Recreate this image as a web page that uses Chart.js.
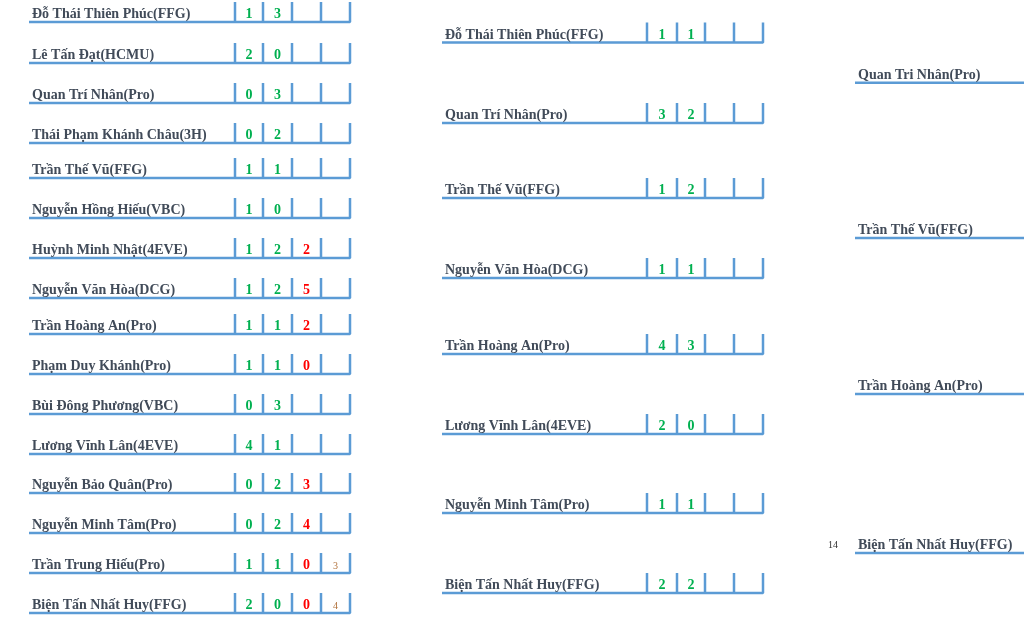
<!DOCTYPE html>
<html>
<head>
<meta charset="utf-8">
<script src="https://cdn.jsdelivr.net/npm/chart.js@4"></script>
<style>
  html, body { margin: 0; padding: 0; background: #fff; }
  #wrap { width: 1024px; height: 624px; position: relative; }
</style>
</head>
<body>
<div id="wrap"><canvas id="bracket"></canvas></div>
<script>
// round 1 (16 players)
const round1Names = [
  'Đỗ Thái Thiên Phúc(FFG)', 'Lê Tấn Đạt(HCMU)', 'Quan Trí Nhân(Pro)', 'Thái Phạm Khánh Châu(3H)',
  'Trần Thế Vũ(FFG)', 'Nguyễn Hồng Hiếu(VBC)', 'Huỳnh Minh Nhật(4EVE)', 'Nguyễn Văn Hòa(DCG)',
  'Trần Hoàng An(Pro)', 'Phạm Duy Khánh(Pro)', 'Bùi Đông Phương(VBC)', 'Lương Vĩnh Lân(4EVE)',
  'Nguyễn Bảo Quân(Pro)', 'Nguyễn Minh Tâm(Pro)', 'Trần Trung Hiếu(Pro)', 'Biện Tấn Nhất Huy(FFG)'
];
const round1Game1 = [1, 2, 0, 0, 1, 1, 1, 1, 1, 1, 0, 4, 0, 0, 1, 2];
const round1Game2 = [3, 0, 3, 2, 1, 0, 2, 2, 1, 1, 3, 1, 2, 2, 1, 0];
const round1Tiebreak = [null, null, null, null, null, null, 2, 5, 2, 0, null, null, 3, 4, 0, 0];
const round1Extra = [null, null, null, null, null, null, null, null, null, null, null, null, null, null, 3, 4];

// round 2 (8 players)
const round2Names = [
  'Đỗ Thái Thiên Phúc(FFG)', 'Quan Trí Nhân(Pro)', 'Trần Thế Vũ(FFG)', 'Nguyễn Văn Hòa(DCG)',
  'Trần Hoàng An(Pro)', 'Lương Vĩnh Lân(4EVE)', 'Nguyễn Minh Tâm(Pro)', 'Biện Tấn Nhất Huy(FFG)'
];
const round2Game1 = [1, 3, 1, 1, 4, 2, 1, 2];
const round2Game2 = [1, 2, 2, 1, 3, 0, 1, 2];

// round 3 (4 players)
const round3Names = ['Quan Tri Nhân(Pro)', 'Trần Thế Vũ(FFG)', 'Trần Hoàng An(Pro)', 'Biện Tấn Nhất Huy(FFG)'];
const round3Notes = [null, null, null, '14'];

// layout (pixel space of the scales)
const round1Rows = [22, 63, 103, 143, 178, 218, 258, 298, 334, 374, 414, 454, 493, 533, 573, 613];
const pairMid = rows => rows.filter((_, i) => i % 2 === 0).map((y, i) => (y + rows[i * 2 + 1]) / 2);
const round2Rows = pairMid(round1Rows);
const round3Rows = pairMid(round2Rows);

const col1 = { x0: 29, name: 32, cells: [235, 263, 292, 321, 350] };
const col2 = { x0: 442, name: 445, cells: [647, 677, 705, 734, 763] };
const col3 = { x0: 855, name: 858, x1: 1024 };
const tickH = 20;

const lineBlue = '#5b9bd5';
const nameColor = '#414b59';
const greenColor = '#00b050';
const redColor = '#ff0000';
const brownColor = '#b0703a';
const nameFont = 'bold 14px "Liberation Serif", "Times New Roman", serif';
const smallFont = '10px "Liberation Serif", "Times New Roman", serif';

// one polyline per row: underline plus the cell ticks
const rowShape = (col, y) => {
  const pts = [{ x: col.x0, y: y }];
  col.cells.forEach(cx => {
    pts.push({ x: cx, y: y }, { x: cx, y: y - tickH }, { x: cx, y: y });
  });
  pts.pop();
  return pts;
};

const lineSet = data => ({
  data: data,
  showLine: true,
  borderColor: lineBlue,
  borderWidth: 2.5,
  pointRadius: 0,
  tension: 0,
  borderJoinStyle: 'bevel',
  borderCapStyle: 'butt'
});

const datasets = [];
round1Rows.forEach(y => datasets.push(lineSet(rowShape(col1, y))));
round2Rows.forEach(y => datasets.push(lineSet(rowShape(col2, y))));
round3Rows.forEach(y => datasets.push(lineSet([{ x: col3.x0, y: y }, { x: col3.x1, y: y }])));

const cellCenter = (col, i) => (col.cells[i] + col.cells[i + 1]) / 2;

const textPlugin = {
  id: 'bracketText',
  afterDatasetsDraw(chart) {
    const { ctx, scales: { x, y } } = chart;
    ctx.save();
    ctx.textBaseline = 'alphabetic';

    const drawScore = (val, col, i, rowY, color, font) => {
      if (val === null || val === undefined) return;
      ctx.font = font;
      ctx.fillStyle = color;
      ctx.textAlign = 'center';
      ctx.fillText(String(val), x.getPixelForValue(cellCenter(col, i)), y.getPixelForValue(rowY - 4));
    };

    round1Names.forEach((name, i) => {
      const ry = round1Rows[i];
      ctx.font = nameFont;
      ctx.fillStyle = nameColor;
      ctx.textAlign = 'left';
      ctx.fillText(name, x.getPixelForValue(col1.name), y.getPixelForValue(ry - 4));
      drawScore(round1Game1[i], col1, 0, ry, greenColor, nameFont);
      drawScore(round1Game2[i], col1, 1, ry, greenColor, nameFont);
      drawScore(round1Tiebreak[i], col1, 2, ry, redColor, nameFont);
      drawScore(round1Extra[i], col1, 3, ry, brownColor, smallFont);
    });

    round2Names.forEach((name, i) => {
      const ry = round2Rows[i];
      ctx.font = nameFont;
      ctx.fillStyle = nameColor;
      ctx.textAlign = 'left';
      ctx.fillText(name, x.getPixelForValue(col2.name), y.getPixelForValue(ry - 4));
      drawScore(round2Game1[i], col2, 0, ry, greenColor, nameFont);
      drawScore(round2Game2[i], col2, 1, ry, greenColor, nameFont);
    });

    round3Names.forEach((name, i) => {
      const ry = round3Rows[i];
      ctx.font = nameFont;
      ctx.fillStyle = nameColor;
      ctx.textAlign = 'left';
      ctx.fillText(name, x.getPixelForValue(col3.name), y.getPixelForValue(ry - 4));
      if (round3Notes[i]) {
        ctx.font = smallFont;
        ctx.fillStyle = '#333';
        ctx.textAlign = 'center';
        ctx.fillText(round3Notes[i], x.getPixelForValue(col3.x0 - 22), y.getPixelForValue(ry - 5));
      }
    });
    ctx.restore();
  }
};

new Chart(document.getElementById('bracket'), {
  type: 'scatter',
  data: { datasets: datasets },
  options: {
    responsive: true,
    maintainAspectRatio: false,
    animation: false,
    layout: { padding: 0 },
    plugins: { legend: { display: false }, tooltip: { enabled: false } },
    scales: {
      x: { type: 'linear', min: 0, max: 1024, display: false },
      y: { type: 'linear', min: 0, max: 624, reverse: true, display: false }
    }
  },
  plugins: [textPlugin]
});
</script>
</body>
</html>
